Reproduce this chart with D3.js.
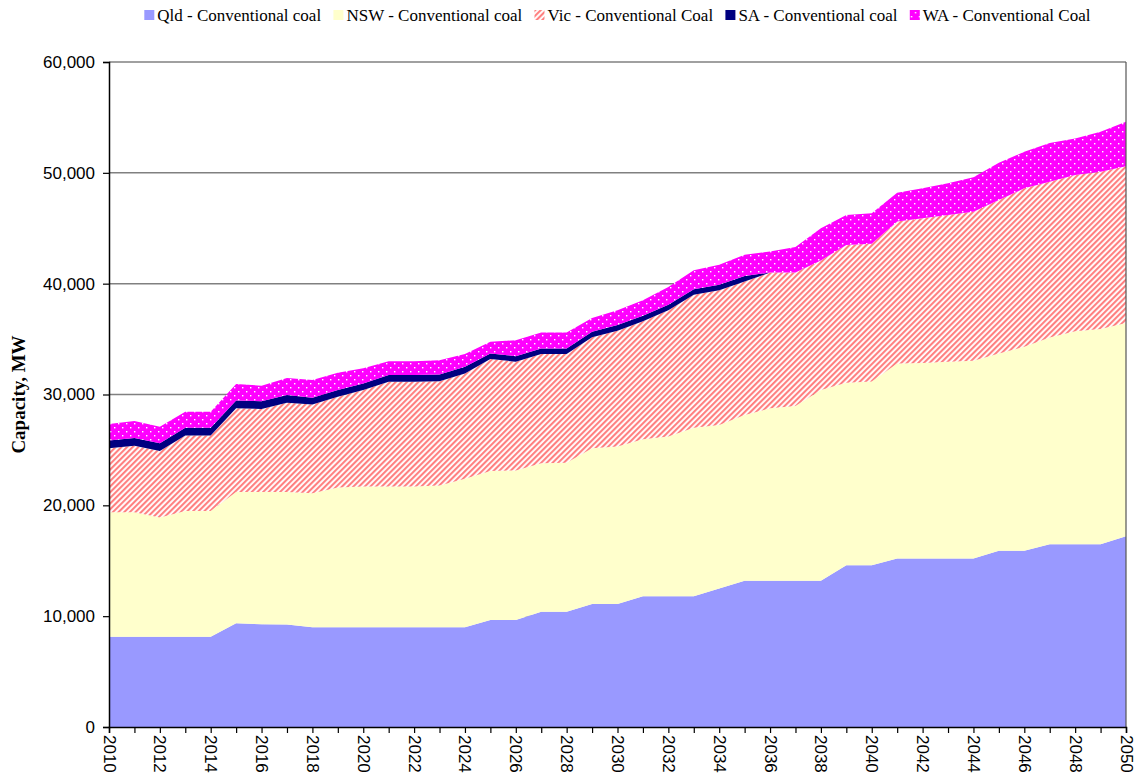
<!DOCTYPE html>
<html lang="en">
<head>
<meta charset="UTF-8">
<title>Conventional coal capacity by state</title>
<script src="https://d3js.org/d3.v7.min.js"></script>
<style>
  body { margin: 0; background: #fff; }
  svg { display: block; font-family: "Palatino Linotype", "Book Antiqua", Palatino, "Liberation Serif", serif; }
</style>
</head>
<body>
<svg width="1146" height="778"></svg>
<script>
// categories
const years = [2010, 2011, 2012, 2013, 2014, 2015, 2016, 2017, 2018, 2019,
               2020, 2021, 2022, 2023, 2024, 2025, 2026, 2027, 2028, 2029,
               2030, 2031, 2032, 2033, 2034, 2035, 2036, 2037, 2038, 2039,
               2040, 2041, 2042, 2043, 2044, 2045, 2046, 2047, 2048, 2049, 2050];

// capacity by state, MW
const qld = [8150, 8150, 8150, 8150, 8150, 9360, 9270, 9240, 9000, 9000,
             9000, 9000, 9000, 9000, 9000, 9650, 9650, 10400, 10400, 11100,
             11100, 11800, 11800, 11800, 12500, 13200, 13200, 13200, 13200, 14600,
             14600, 15200, 15200, 15200, 15200, 15900, 15900, 16500, 16500, 16500, 17200];
const nsw = [11220, 11220, 10750, 11350, 11350, 11840, 11930, 11960, 12100, 12600,
             12700, 12700, 12700, 12800, 13400, 13450, 13500, 13400, 13450, 14050,
             14200, 14160, 14400, 15200, 14750, 14950, 15550, 15760, 17200, 16450,
             16580, 17600, 17650, 17760, 17850, 17800, 18400, 18650, 19200, 19400, 19250];
const vic = [5770, 6010, 6000, 6800, 6800, 7550, 7500, 8060, 8000, 8200,
             8700, 9460, 9460, 9400, 9500, 10100, 9810, 9850, 9800, 10010,
             10460, 10640, 11400, 12000, 12150, 12050, 12250, 12040, 11700, 12450,
             12420, 12800, 13050, 13240, 13450, 13850, 14300, 14050, 14100, 14200, 14150];
const sa  = [700, 700, 700, 700, 700, 700, 700, 700, 600, 600,
             600, 600, 600, 600, 600, 500, 500, 500, 500, 500,
             500, 500, 500, 500, 500, 500, 0, 0, 0, 0,
             0, 0, 0, 0, 0, 0, 0, 0, 0, 0, 0];
const wa  = [1500, 1520, 1500, 1450, 1450, 1500, 1400, 1540, 1600, 1570,
             1360, 1240, 1240, 1300, 1150, 1070, 1440, 1450, 1450, 1240,
             1340, 1400, 1600, 1700, 1800, 1900, 1900, 2300, 2900, 2700,
             2750, 2600, 2700, 2850, 3100, 3350, 3300, 3500, 3300, 3600, 4000];

const seriesNames = ["Qld - Conventional coal", "NSW - Conventional coal", "Vic - Conventional Coal",
                     "SA - Conventional coal", "WA - Conventional Coal"];
const yTicks = [0, 10000, 20000, 30000, 40000, 50000, 60000];

const keys = ["qld", "nsw", "vic", "sa", "wa"];
const fills = { qld: "#9999ff", nsw: "#ffffcc", vic: "url(#hatch)", sa: "#000080", wa: "url(#dots)" };

const table = years.map((yr, i) => ({ year: yr, qld: qld[i], nsw: nsw[i], vic: vic[i], sa: sa[i], wa: wa[i] }));

const margin = { top: 62, right: 20, bottom: 51, left: 109 },
    width = 1146 - margin.left - margin.right,
    height = 778 - margin.top - margin.bottom;

const svg = d3.select("svg");

// fill patterns
const defs = svg.append("defs");
const hatch = defs.append("pattern")
    .attr("id", "hatch")
    .attr("patternUnits", "userSpaceOnUse")
    .attr("width", 4).attr("height", 4)
    .attr("patternTransform", "rotate(45)");
hatch.append("rect").attr("width", 4).attr("height", 4).attr("fill", "#fff");
hatch.append("line").attr("x1", 1).attr("x2", 1).attr("y1", 0).attr("y2", 4)
    .attr("stroke", "#ff8080").attr("stroke-width", 2.2);

const dots = defs.append("pattern")
    .attr("id", "dots")
    .attr("patternUnits", "userSpaceOnUse")
    .attr("width", 8).attr("height", 8);
dots.append("rect").attr("width", 8).attr("height", 8).attr("fill", "#ff00ff");
dots.append("rect").attr("x", 1).attr("y", 1).attr("width", 1.4).attr("height", 1.4).attr("fill", "#fff");
dots.append("rect").attr("x", 5).attr("y", 5).attr("width", 1.4).attr("height", 1.4).attr("fill", "#fff");

const g = svg.append("g")
    .attr("transform", `translate(${margin.left},${margin.top})`);

const x = d3.scaleLinear().domain([2010, 2050]).range([0, width]);
const y = d3.scaleLinear().domain([0, 60000]).range([height, 0]);

// gridlines
g.append("g")
    .selectAll("line")
    .data(yTicks.filter(d => d > 0))
    .join("line")
    .attr("x1", 0).attr("x2", width)
    .attr("y1", d => y(d)).attr("y2", d => y(d))
    .attr("stroke", "#808080")
    .attr("stroke-width", 1.5);

// stacked areas
const stacked = d3.stack().keys(keys)(table);
const area = d3.area()
    .x(d => x(d.data.year))
    .y0(d => y(d[0]))
    .y1(d => y(d[1]));

g.append("g")
    .selectAll("path")
    .data(stacked)
    .join("path")
    .attr("fill", d => fills[d.key])
    .attr("d", area);

// right border of the plot
g.append("line")
    .attr("x1", width).attr("x2", width)
    .attr("y1", 0).attr("y2", height)
    .attr("stroke", "#555").attr("stroke-width", 1.2);

// y axis
const yAxis = g.append("g")
    .call(d3.axisLeft(y).tickValues(yTicks).tickSize(6).tickPadding(8).tickFormat(d3.format(",")));
yAxis.select(".domain").attr("stroke", "#000").attr("stroke-width", 1.5);
yAxis.selectAll(".tick line").attr("stroke", "#000").attr("stroke-width", 1.2);
yAxis.selectAll("text")
    .attr("font-family", null)
    .style("font-size", "17px")
    .attr("fill", "#000");

// x axis
const xAxis = g.append("g")
    .attr("transform", `translate(0,${height})`)
    .call(d3.axisBottom(x).tickValues(years).tickSize(6).tickFormat(d => d % 2 === 0 ? d : ""));
xAxis.select(".domain").attr("stroke", "#000").attr("stroke-width", 1.5);
xAxis.selectAll(".tick line").attr("stroke", "#000").attr("stroke-width", 1.2);
xAxis.selectAll("text")
    .attr("font-family", null)
    .style("font-size", "17px")
    .attr("fill", "#000")
    .attr("transform", "rotate(90)")
    .attr("x", 8)
    .attr("y", 0)
    .attr("dy", ".35em")
    .style("text-anchor", "start");

// y title
svg.append("text")
    .attr("transform", `translate(25,${margin.top + height / 2}) rotate(-90)`)
    .attr("text-anchor", "middle")
    .style("font-size", "19px")
    .style("font-weight", "bold")
    .text("Capacity, MW");

// legend
const legend = svg.append("g").attr("transform", "translate(0,15)");
const items = legend.selectAll("g")
    .data(keys)
    .join("g");
items.append("rect")
    .attr("y", -5).attr("width", 10).attr("height", 10)
    .attr("fill", d => fills[d]);
items.append("text")
    .attr("x", 13)
    .attr("dy", ".35em")
    .style("font-size", "17px")
    .text((d, i) => seriesNames[i]);

let offset = 0;
const positions = [];
items.each(function () {
    positions.push(offset);
    offset += this.getBBox().width + 12;
});
const legendStart = margin.left + width / 2 - (offset - 12) / 2;
items.attr("transform", (d, i) => `translate(${legendStart + positions[i]},0)`);
</script>
</body>
</html>
